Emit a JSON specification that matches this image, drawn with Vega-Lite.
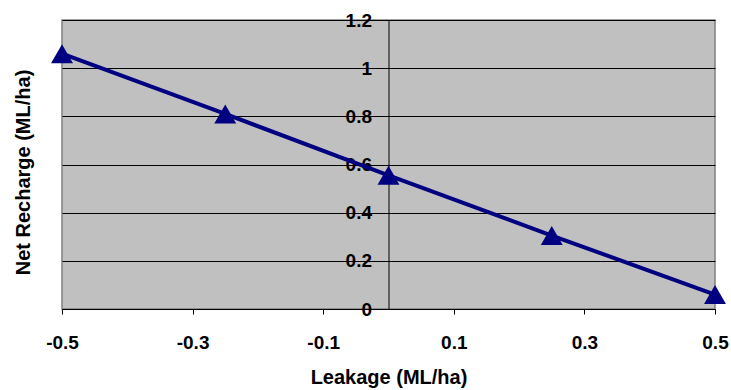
{
  "$schema": "https://vega.github.io/schema/vega-lite/v6.json",
  "autosize": {"type": "none"},
  "width": 653,
  "height": 289,
  "padding": {"left": 62, "top": 20, "right": 16, "bottom": 81},
  "background": "white",
  "config": {
    "view": {"fill": "#C0C0C0", "stroke": "#808080", "strokeWidth": 1.5},
    "axis": {
      "labelFont": "Liberation Sans",
      "labelFontWeight": "bold",
      "labelFontSize": 19,
      "labelColor": "black",
      "titleFont": "Liberation Sans",
      "titleFontWeight": "bold",
      "titleFontSize": 20,
      "titleColor": "black",
      "domainColor": "black",
      "tickColor": "black"
    }
  },
  "data": {
    "values": [
      {"leakage": -0.5, "recharge": 1.06},
      {"leakage": -0.25, "recharge": 0.81},
      {"leakage": 0.0, "recharge": 0.555},
      {"leakage": 0.25, "recharge": 0.305},
      {"leakage": 0.5, "recharge": 0.06}
    ]
  },
  "encoding": {
    "x": {
      "field": "leakage",
      "type": "quantitative",
      "scale": {"domain": [-0.5, 0.5], "nice": false, "zero": false},
      "axis": {
        "title": "Leakage (ML/ha)",
        "values": [-0.5, -0.3, -0.1, 0.1, 0.3, 0.5],
        "labelExpr": "datum.value + ''",
        "grid": false,
        "tickSize": 5,
        "labelPadding": 19,
        "titlePadding": 15,
        "labelFlush": false,
        "labelOverlap": false
      }
    },
    "y": {
      "field": "recharge",
      "type": "quantitative",
      "scale": {"domain": [0, 1.2], "nice": false},
      "axis": {
        "title": "Net Recharge (ML/ha)",
        "values": [0, 0.2, 0.4, 0.6, 0.8, 1, 1.2],
        "labelExpr": "datum.value + ''",
        "grid": true,
        "gridColor": "black",
        "gridOpacity": 1,
        "gridWidth": 1,
        "offset": -326.5,
        "tickSize": 7,
        "labelPadding": 10,
        "labelFlush": false,
        "labelOverlap": false,
        "titleX": -365,
        "titleY": 152,
        "titleAngle": -90,
        "titleAlign": "center",
        "titleBaseline": "middle"
      }
    }
  },
  "layer": [
    {"mark": {"type": "line", "color": "#000080", "strokeWidth": 4}},
    {"mark": {"type": "point", "shape": "triangle-up", "filled": true, "color": "#000080", "opacity": 1, "size": 480}}
  ]
}
